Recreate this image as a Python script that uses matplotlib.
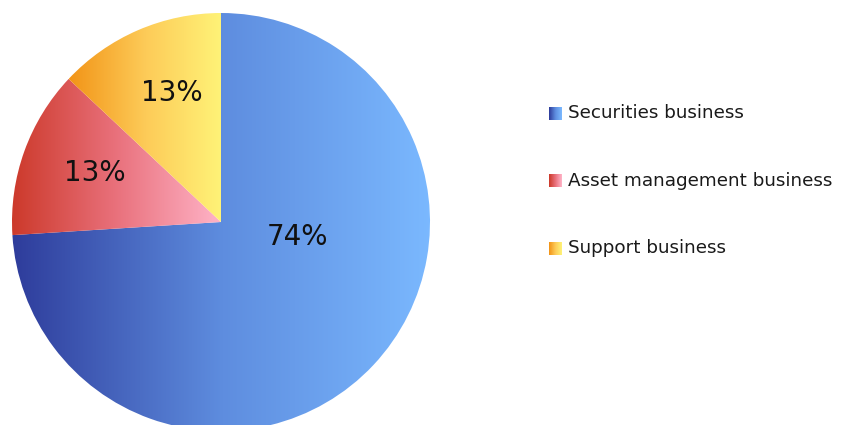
import numpy as np
import matplotlib
matplotlib.use("Agg")
import matplotlib.pyplot as plt
from matplotlib.colors import LinearSegmentedColormap

# business segment shares (%)
segments = ["Securities business", "Asset management business", "Support business"]
shares = [74, 13, 13]

# horizontal gradient stops for each segment (left -> right)
grad_stops = [
    ["#2e3c9b", "#5e8ddf", "#7bb9ff"],
    ["#cc392a", "#e9717c", "#ffb4c8"],
    ["#f29417", "#fdcb58", "#fff378"],
]

# label anchor points in figure pixels
label_pos = [(298, 237), (95, 173), (172, 93)]

W, H = 841, 425
center = (221, H - 222)
radius = 209


def gradient_img(stops, n=256):
    cmap = LinearSegmentedColormap.from_list("g", stops)
    return cmap(np.linspace(0, 1, n))[np.newaxis, :, :]


fig = plt.figure(figsize=(W / 100, H / 100), dpi=100)
ax = fig.add_axes([0, 0, 1, 1])

wedges, _ = ax.pie(shares, startangle=90, counterclock=False,
                   radius=radius, center=center,
                   wedgeprops=dict(linewidth=0))

for wedge, stops in zip(wedges, grad_stops):
    verts = wedge.get_path().vertices
    x0, x1 = verts[:, 0].min(), verts[:, 0].max()
    y0, y1 = verts[:, 1].min(), verts[:, 1].max()
    wedge.set_facecolor("none")
    im = ax.imshow(gradient_img(stops), extent=(x0, x1, y0, y1),
                   aspect="auto", interpolation="bilinear", zorder=1)
    im.set_clip_path(wedge)

for val, (px, py) in zip(shares, label_pos):
    ax.text(px, H - py, f"{val}%", ha="center", va="center",
            fontsize=20, color="#111111", family="DejaVu Sans", zorder=3)

# legend drawn by hand so the markers keep their gradients
leg_x, leg_y0, leg_dy, box = 549, 113, 67.5, 13
for i, (name, stops) in enumerate(zip(segments, grad_stops)):
    yc = H - (leg_y0 + i * leg_dy)
    ax.imshow(gradient_img(stops, 32),
              extent=(leg_x, leg_x + box, yc - box / 2, yc + box / 2),
              aspect="auto", interpolation="bilinear", zorder=1)
    ax.text(leg_x + box + 6, yc, name, ha="left", va="center",
            fontsize=13.2, color="#1a1a1a", family="DejaVu Sans")

ax.set_xlim(0, W)
ax.set_ylim(0, H)
ax.set_aspect("auto")
ax.axis("off")

fig.savefig("out.png", dpi=100, facecolor="white")
